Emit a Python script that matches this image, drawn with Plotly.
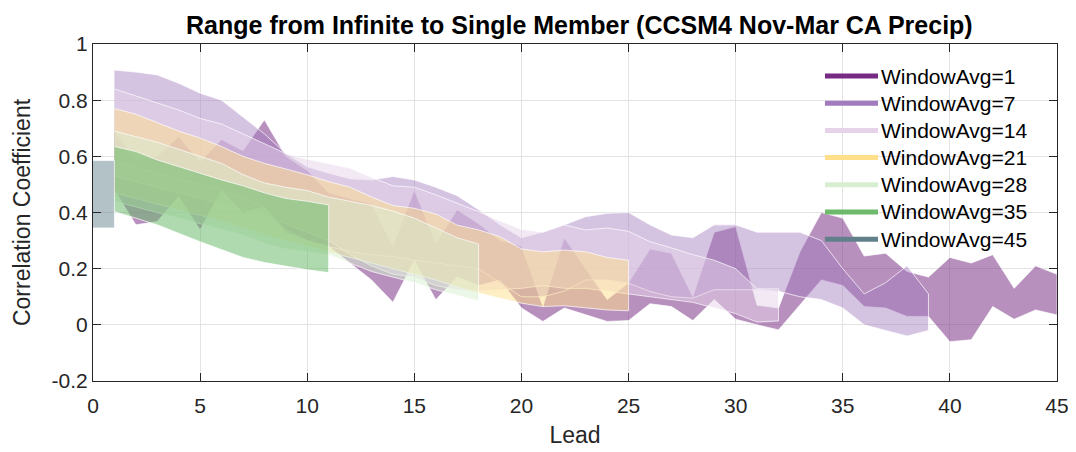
import plotly.graph_objects as go

# ---------------- data ----------------
windows = [1, 7, 14, 21, 28, 35, 45]
legend_colors = ["#762A83", "#A27BBF", "#E6D3EA", "#FFDF8A", "#D7EFD0", "#6DBA6D", "#61808A"]
fill_alpha = [0.52, 0.45, 0.5, 0.5, 0.5, 0.55, 0.48]

leads_w1 = list(range(1, 46))
upper_w1 = [0.69, 0.59, 0.60, 0.67, 0.58, 0.66, 0.62, 0.73, 0.60, 0.55,
            0.47, 0.45, 0.43, 0.28, 0.48, 0.29, 0.41, 0.36, 0.30, 0.28,
            0.065, 0.31, 0.20, 0.09, 0.15, 0.27, 0.255, 0.10, 0.33, 0.35,
            0.07, 0.06, 0.26, 0.40, 0.38, 0.245, 0.255, 0.19, 0.17, 0.24,
            0.22, 0.25, 0.13, 0.21, 0.18]
lower_w1 = [0.48, 0.356, 0.368, 0.457, 0.338, 0.48, 0.40, 0.42, 0.33, 0.30,
            0.28, 0.22, 0.16, 0.08, 0.23, 0.089, 0.17, 0.14, 0.16, 0.06,
            0.012, 0.06, 0.036, 0.012, 0.015, 0.075, 0.065, 0.015, 0.09, 0.02,
            0.0, -0.018, 0.07, 0.16, 0.14, 0.065, 0.06, 0.03, 0.03, -0.06,
            -0.053, 0.065, 0.02, 0.053, 0.035]

leads_w7 = list(range(1, 40))
upper_w7 = [0.907, 0.90, 0.89, 0.86, 0.825, 0.80, 0.74, 0.68, 0.61, 0.563,
            0.54, 0.52, 0.516, 0.528, 0.516, 0.49, 0.46, 0.41, 0.356, 0.31,
            0.33, 0.356, 0.385, 0.397, 0.40, 0.356, 0.32, 0.31, 0.356, 0.356,
            0.33, 0.33, 0.33, 0.30, 0.20, 0.11, 0.15, 0.21, 0.11]
lower_w7 = [0.58, 0.56, 0.54, 0.52, 0.50, 0.48, 0.45, 0.42, 0.338, 0.30,
            0.279, 0.261, 0.25, 0.243, 0.231, 0.22, 0.21, 0.20, 0.15, 0.10,
            0.10, 0.12, 0.16, 0.16, 0.148, 0.119, 0.10, 0.095, 0.125, 0.125,
            0.125, 0.12, 0.10, 0.09, 0.06, 0.0, -0.02, -0.04, -0.02]

leads_w14 = list(range(1, 33))
upper_w14 = [0.84, 0.815, 0.79, 0.765, 0.735, 0.715, 0.68, 0.645, 0.61, 0.59,
             0.575, 0.558, 0.525, 0.495, 0.49, 0.463, 0.433, 0.403, 0.37, 0.34,
             0.33, 0.356, 0.338, 0.345, 0.333, 0.296, 0.274, 0.25, 0.23, 0.20,
             0.128, 0.128]
lower_w14 = [0.53, 0.51, 0.49, 0.47, 0.45, 0.43, 0.41, 0.39, 0.36, 0.33,
             0.30, 0.25, 0.21, 0.18, 0.17, 0.14, 0.125, 0.12, 0.125, 0.13,
             0.14, 0.13, 0.13, 0.12, 0.11, 0.10, 0.09, 0.08, 0.06, 0.04,
             0.01, 0.014]

leads_w21 = list(range(1, 26))
upper_w21 = [0.77, 0.75, 0.72, 0.69, 0.665, 0.635, 0.60, 0.575, 0.555, 0.534,
             0.51, 0.49, 0.455, 0.425, 0.415, 0.395, 0.355, 0.338, 0.314, 0.27,
             0.26, 0.266, 0.26, 0.24, 0.23]
lower_w21 = [0.47, 0.45, 0.43, 0.41, 0.39, 0.37, 0.345, 0.32, 0.30, 0.28,
             0.26, 0.24, 0.22, 0.20, 0.18, 0.16, 0.135, 0.113, 0.095, 0.077,
             0.065, 0.068, 0.06, 0.053, 0.05]

leads_w28 = list(range(1, 19))
upper_w28 = [0.69, 0.67, 0.65, 0.625, 0.60, 0.575, 0.535, 0.505, 0.49, 0.478,
             0.455, 0.44, 0.425, 0.405, 0.38, 0.345, 0.31, 0.288]
lower_w28 = [0.44, 0.42, 0.40, 0.38, 0.36, 0.34, 0.32, 0.29, 0.27, 0.26,
             0.25, 0.22, 0.19, 0.17, 0.15, 0.125, 0.105, 0.085]

leads_w35 = list(range(1, 12))
upper_w35 = [0.635, 0.617, 0.587, 0.563, 0.54, 0.516, 0.495, 0.47, 0.45, 0.44, 0.427]
lower_w35 = [0.403, 0.38, 0.356, 0.326, 0.296, 0.267, 0.24, 0.222, 0.208, 0.196, 0.186]

leads_w45 = [0, 1]
upper_w45 = [0.585, 0.585]
lower_w45 = [0.345, 0.345]

bands = [
    (leads_w1, upper_w1, lower_w1),
    (leads_w7, upper_w7, lower_w7),
    (leads_w14, upper_w14, lower_w14),
    (leads_w21, upper_w21, lower_w21),
    (leads_w28, upper_w28, lower_w28),
    (leads_w35, upper_w35, lower_w35),
    (leads_w45, upper_w45, lower_w45),
]

title_text = "Range from Infinite to Single Member (CCSM4 Nov-Mar CA Precip)"
x_title = "Lead"
y_title = "Correlation Coefficient"
x_ticks = [0, 5, 10, 15, 20, 25, 30, 35, 40, 45]
y_ticks = [-0.2, 0, 0.2, 0.4, 0.6, 0.8, 1]
y_ticklabels = ["-0.2", "0", "0.2", "0.4", "0.6", "0.8", "1"]


def rgba(hex_color, a):
    h = hex_color.lstrip("#")
    r, g, b = int(h[0:2], 16), int(h[2:4], 16), int(h[4:6], 16)
    return f"rgba({r},{g},{b},{a})"


fig = go.Figure()
FONT = "Liberation Sans, Arial, Helvetica, sans-serif"

for (x, up, lo), col, a in zip(bands, legend_colors, fill_alpha):
    fig.add_trace(go.Scatter(
        x=list(x) + list(x)[::-1],
        y=list(up) + list(lo)[::-1],
        fill="toself",
        fillcolor=rgba(col, a),
        line=dict(color="rgba(255,255,255,0.7)", width=1),
        mode="lines",
        hoverinfo="skip",
        showlegend=False,
    ))

# legend drawn as a key in paper coordinates (MATLAB-style long line samples)
legend_x0, legend_x1, legend_tx = 0.7593, 0.8143, 0.8155
legend_y0, legend_dy = 0.905, 0.0807
for i, (w, col) in enumerate(zip(windows, legend_colors)):
    yy = legend_y0 - i * legend_dy
    fig.add_shape(type="line", xref="paper", yref="paper",
                  x0=legend_x0, x1=legend_x1, y0=yy, y1=yy,
                  line=dict(color=col, width=5))
    fig.add_annotation(xref="paper", yref="paper", x=legend_tx, y=yy,
                       xanchor="left", yanchor="middle", showarrow=False,
                       text=f"WindowAvg={w}",
                       font=dict(family=FONT, size=21, color="#000000"))

fig.update_layout(
    width=1068, height=444,
    margin=dict(l=85, r=19, t=36, b=71),
    paper_bgcolor="white",
    plot_bgcolor="white",
    font=dict(family=FONT, color="#262626", size=20),
    title=dict(text=f"<b>{title_text}</b>", x=0.535, xanchor="center",
               y=0.962, yanchor="middle",
               font=dict(family=FONT, size=25, color="#000000")),
    showlegend=False,
)

fig.update_xaxes(
    range=[0, 45], tickvals=x_ticks, ticks="inside", ticklen=8, tickcolor="#262626",
    showline=True, linecolor="#262626", linewidth=1, mirror="ticks",
    showgrid=True, gridcolor="#E3E3E3", gridwidth=1, zeroline=False,
    tickfont=dict(size=21, color="#262626"), automargin=False,
    ticklabelstandoff=6,
    title=dict(text=x_title, font=dict(size=23, color="#262626"), standoff=10),
)
fig.update_yaxes(
    range=[-0.2, 1], tickvals=y_ticks, ticktext=y_ticklabels, ticks="inside",
    ticklen=8, tickcolor="#262626",
    showline=True, linecolor="#262626", linewidth=1, mirror="ticks",
    showgrid=True, gridcolor="#E3E3E3", gridwidth=1, zeroline=False,
    tickfont=dict(size=21, color="#262626"), automargin=False,
    title=dict(text=y_title, font=dict(size=23, color="#262626"), standoff=14),
)

fig.write_html("out.html")
